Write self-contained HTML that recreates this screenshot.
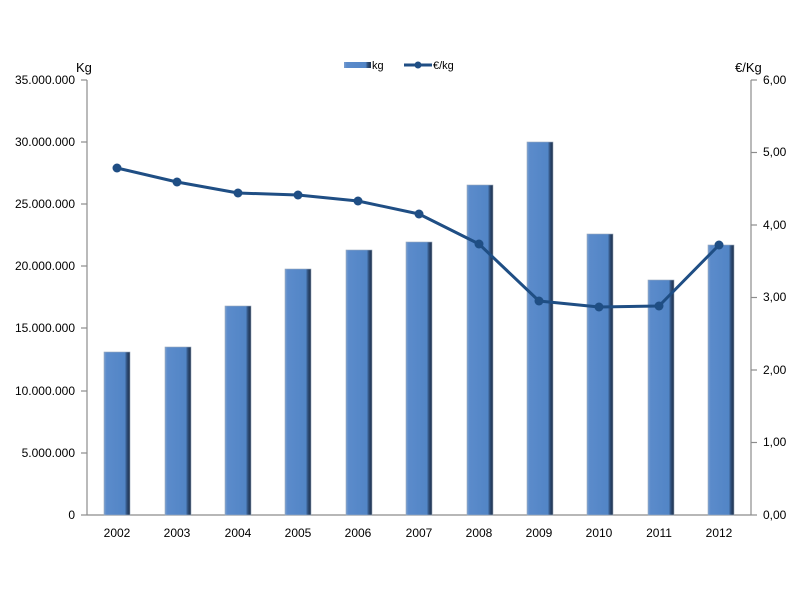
<!DOCTYPE html>
<html><head><meta charset="utf-8"><style>body{margin:0;background:#fff}svg{display:block}</style></head>
<body>
<svg width="800" height="600" xmlns="http://www.w3.org/2000/svg" font-family="Liberation Sans, sans-serif">
<defs>
<linearGradient id="g" x1="0" x2="1" y1="0" y2="0">
<stop offset="0" stop-color="#7a9fd0"/><stop offset="0.1" stop-color="#5b8bcb"/><stop offset="0.8" stop-color="#5285c6"/><stop offset="0.88" stop-color="#2f4f7a"/><stop offset="1" stop-color="#1e2f48"/>
</linearGradient>
</defs>
<g stroke="#8c8c8c" stroke-width="1.2">
<line x1="87" y1="80" x2="87" y2="515"/>
<line x1="87" y1="515" x2="751" y2="515"/>
<line x1="751" y1="80" x2="751" y2="515"/>
<line x1="81" y1="80" x2="87" y2="80"/><line x1="81" y1="142" x2="87" y2="142"/><line x1="81" y1="204" x2="87" y2="204"/><line x1="81" y1="266" x2="87" y2="266"/><line x1="81" y1="328" x2="87" y2="328"/><line x1="81" y1="391" x2="87" y2="391"/><line x1="81" y1="453" x2="87" y2="453"/><line x1="81" y1="515" x2="87" y2="515"/>
<line x1="751" y1="80" x2="757" y2="80"/><line x1="751" y1="152.5" x2="757" y2="152.5"/><line x1="751" y1="225" x2="757" y2="225"/><line x1="751" y1="297.5" x2="757" y2="297.5"/><line x1="751" y1="370" x2="757" y2="370"/><line x1="751" y1="442.5" x2="757" y2="442.5"/><line x1="751" y1="515" x2="757" y2="515"/>
</g>
<g fill="url(#g)" stroke="#9aa9bd" stroke-width="0.6">
<rect x="104" y="352" width="26" height="163"/>
<rect x="165" y="347" width="26" height="168"/>
<rect x="225" y="306" width="26" height="209"/>
<rect x="285" y="269" width="26" height="246"/>
<rect x="346" y="250" width="26" height="265"/>
<rect x="406" y="242" width="26" height="273"/>
<rect x="467" y="185" width="26" height="330"/>
<rect x="527" y="142" width="26" height="373"/>
<rect x="587" y="234" width="26" height="281"/>
<rect x="648" y="280" width="26" height="235"/>
<rect x="708" y="245" width="26" height="270"/>
</g>
<polyline fill="none" stroke="#1f4e84" stroke-width="3" stroke-linejoin="round" points="117,168 177,182 238,193 298,195 358,201 419,214 479,244 539,301 599,307 659,306 719,245"/>
<g fill="#1f4e84">
<circle cx="117" cy="168" r="4.5"/><circle cx="177" cy="182" r="4.5"/><circle cx="238" cy="193" r="4.5"/><circle cx="298" cy="195" r="4.5"/><circle cx="358" cy="201" r="4.5"/><circle cx="419" cy="214" r="4.5"/><circle cx="479" cy="244" r="4.5"/><circle cx="539" cy="301" r="4.5"/><circle cx="599" cy="307" r="4.5"/><circle cx="659" cy="306" r="4.5"/><circle cx="719" cy="245" r="4.5"/>
</g>
<g font-size="12" fill="#000" text-anchor="end">
<text x="75" y="84">35.000.000</text><text x="75" y="146">30.000.000</text><text x="75" y="208">25.000.000</text><text x="75" y="270">20.000.000</text><text x="75" y="332">15.000.000</text><text x="75" y="395">10.000.000</text><text x="75" y="457">5.000.000</text><text x="75" y="519">0</text>
</g>
<g font-size="12" fill="#000">
<text x="763" y="84">6,00</text><text x="763" y="156">5,00</text><text x="763" y="229">4,00</text><text x="763" y="301">3,00</text><text x="763" y="374">2,00</text><text x="763" y="446">1,00</text><text x="763" y="519">0,00</text>
</g>
<g font-size="12" fill="#000" text-anchor="middle">
<text x="117" y="537">2002</text><text x="177" y="537">2003</text><text x="238" y="537">2004</text><text x="298" y="537">2005</text><text x="358" y="537">2006</text><text x="419" y="537">2007</text><text x="479" y="537">2008</text><text x="539" y="537">2009</text><text x="599" y="537">2010</text><text x="659" y="537">2011</text><text x="719" y="537">2012</text>
</g>
<text x="76" y="72" font-size="13">Kg</text>
<text x="735" y="72" font-size="13">€/Kg</text>
<rect x="344" y="62" width="27" height="6" fill="url(#g)"/>
<text x="372" y="69" font-size="11">kg</text>
<line x1="404" y1="65" x2="432" y2="65" stroke="#1f4e84" stroke-width="3"/>
<circle cx="418" cy="65" r="3.5" fill="#1f4e84"/>
<text x="433" y="69" font-size="11">€/kg</text>
</svg>
</body></html>
